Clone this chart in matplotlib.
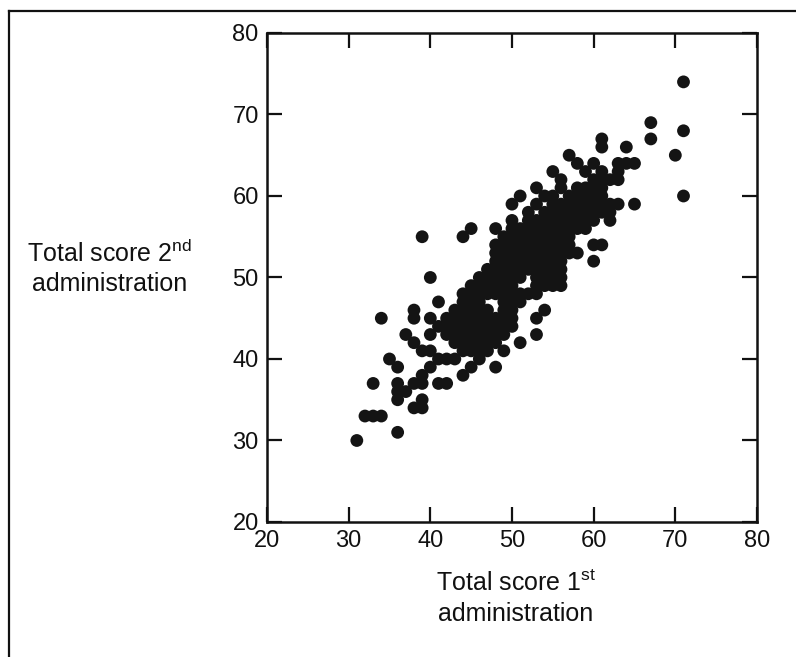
import matplotlib.pyplot as plt
from matplotlib.lines import Line2D

plt.rcParams['font.family'] = ['Liberation Sans', 'DejaVu Sans']
plt.rcParams['mathtext.fontset'] = 'custom'
plt.rcParams['mathtext.rm'] = 'Liberation Sans'
plt.rcParams['mathtext.it'] = 'Liberation Sans'

# total score, 1st administration (x)
score_1st = [
    31,
    36,
    32, 33, 34,
    38, 39,
    36, 39,
    36, 37,
    33, 36, 38, 39, 41, 42,
    39, 44,
    36, 40, 45, 48,
    35, 41, 42, 43, 46,
    39, 40, 44, 45, 46, 47, 49,
    38, 43, 44, 45, 46, 47, 48, 51,
    37, 40, 42, 43, 44, 45, 46, 47, 48, 49, 53,
    41, 42, 43, 44, 45, 46, 47, 48, 49, 50,
    34, 38, 40, 42, 43, 44, 45, 46, 47, 48, 49, 50, 53,
    38, 43, 44, 45, 46, 47, 49, 50, 54,
    41, 44, 45, 46, 49, 50, 51,
    44, 45, 46, 47, 48, 49, 50, 51, 52, 53,
    45, 46, 47, 48, 49, 50, 53, 54, 55, 56,
    40, 46, 47, 48, 49, 50, 51, 53, 54, 55, 56,
    47, 48, 49, 50, 51, 52, 53, 54, 55, 56,
    48, 49, 50, 51, 52, 53, 54, 55, 56, 60,
    48, 49, 50, 51, 52, 53, 54, 55, 56, 57, 58,
    48, 49, 50, 51, 52, 53, 54, 55, 56, 57, 60, 61,
    39, 44, 49, 50, 51, 52, 53, 54, 55, 56, 57,
    45, 48, 50, 51, 52, 53, 54, 55, 56, 57, 58, 59,
    50, 52, 53, 54, 55, 56, 57, 58, 59, 60, 62,
    52, 54, 55, 56, 57, 58, 59, 60, 61, 62,
    50, 53, 55, 56, 57, 58, 59, 60, 61, 62, 63, 65,
    51, 54, 55, 57, 58, 59, 60, 61, 71,
    53, 56, 58, 59, 60, 61,
    56, 60, 61, 62, 63,
    55, 59, 61, 63,
    58, 60, 63, 64, 65,
    57, 70,
    61, 64,
    61, 67,
    71,
    67,
    71,
]

# total score, 2nd administration (y), same order
score_2nd = [
    30,
    31,
    33, 33, 33,
    34, 34,
    35, 35,
    36, 36,
    37, 37, 37, 37, 37, 37,
    38, 38,
    39, 39, 39, 39,
    40, 40, 40, 40, 40,
    41, 41, 41, 41, 41, 41, 41,
    42, 42, 42, 42, 42, 42, 42, 42,
    43, 43, 43, 43, 43, 43, 43, 43, 43, 43, 43,
    44, 44, 44, 44, 44, 44, 44, 44, 44, 44,
    45, 45, 45, 45, 45, 45, 45, 45, 45, 45, 45, 45, 45,
    46, 46, 46, 46, 46, 46, 46, 46, 46,
    47, 47, 47, 47, 47, 47, 47,
    48, 48, 48, 48, 48, 48, 48, 48, 48, 48,
    49, 49, 49, 49, 49, 49, 49, 49, 49, 49,
    50, 50, 50, 50, 50, 50, 50, 50, 50, 50, 50,
    51, 51, 51, 51, 51, 51, 51, 51, 51, 51,
    52, 52, 52, 52, 52, 52, 52, 52, 52, 52,
    53, 53, 53, 53, 53, 53, 53, 53, 53, 53, 53,
    54, 54, 54, 54, 54, 54, 54, 54, 54, 54, 54, 54,
    55, 55, 55, 55, 55, 55, 55, 55, 55, 55, 55,
    56, 56, 56, 56, 56, 56, 56, 56, 56, 56, 56, 56,
    57, 57, 57, 57, 57, 57, 57, 57, 57, 57, 57,
    58, 58, 58, 58, 58, 58, 58, 58, 58, 58,
    59, 59, 59, 59, 59, 59, 59, 59, 59, 59, 59, 59,
    60, 60, 60, 60, 60, 60, 60, 60, 60,
    61, 61, 61, 61, 61, 61,
    62, 62, 62, 62, 62,
    63, 63, 63, 63,
    64, 64, 64, 64, 64,
    65, 65,
    66, 66,
    67, 67,
    68,
    69,
    74,
]

ticks = [20, 30, 40, 50, 60, 70, 80]

fig = plt.figure(figsize=(7.96, 6.57), dpi=100)
ax = fig.add_axes([0.3354, 0.2055, 0.6156, 0.7443])

ax.scatter(score_1st, score_2nd, s=85, color='#141414', edgecolors='none', zorder=3)

ax.set_xlim(20, 80)
ax.set_ylim(20, 80)
ax.set_xticks(ticks)
ax.set_yticks(ticks)
ax.tick_params(direction='in', length=11, width=1.6, top=True, right=True,
               labelsize=17, colors='#111111', pad=6)
for sp in ax.spines.values():
    sp.set_linewidth(1.8)
    sp.set_color('#111111')

fig.text(110 / 796, 1 - 268 / 657, 'Total score 2$^{\\mathrm{nd}}$\nadministration',
         ha='center', va='center', multialignment='center', fontsize=18,
         linespacing=1.3, color='#111111')
fig.text(516 / 796, 1 - 598 / 657, 'Total score 1$^{\\mathrm{st}}$\nadministration',
         ha='center', va='center', multialignment='center', fontsize=18,
         linespacing=1.3, color='#111111')

# page frame lines, top and left
fig.add_artist(Line2D([9 / 796, 1.0], [1 - 11 / 657, 1 - 11 / 657],
                      transform=fig.transFigure, color='#111111', lw=1.6))
fig.add_artist(Line2D([9 / 796, 9 / 796], [1 - 11 / 657, 0.0],
                      transform=fig.transFigure, color='#111111', lw=1.6))

fig.savefig('out.png', dpi=100)
